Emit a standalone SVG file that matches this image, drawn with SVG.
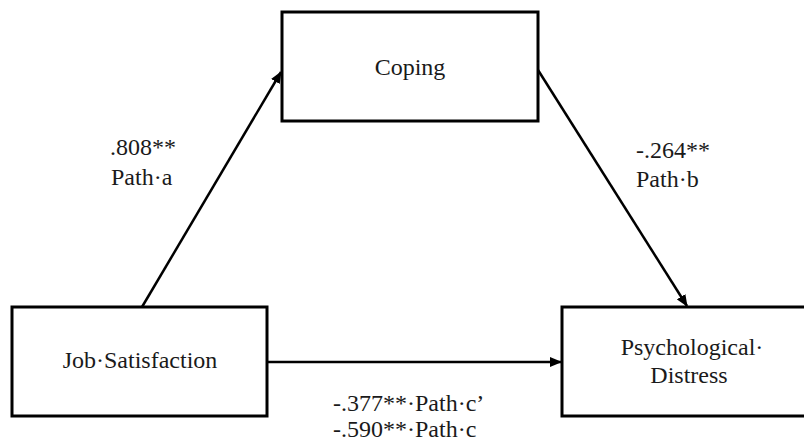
<svg xmlns="http://www.w3.org/2000/svg" width="804" height="447" viewBox="0 0 804 447">
<defs>
<style>
.box{fill:#fff;stroke:#000;stroke-width:3}
.lbl{font-family:"Liberation Serif","Times New Roman",serif;font-size:24px;fill:#1a1a1a}
.mid{text-anchor:middle}
.conn{stroke:#000;stroke-width:2.5;fill:none}
</style>
<marker id="ah" markerUnits="userSpaceOnUse" markerWidth="12" markerHeight="10" refX="11" refY="5" orient="auto">
<path d="M0,0 L12,5 L0,10 Z" fill="#000"/>
</marker>
</defs>
<rect width="804" height="447" fill="#fff"/>
<g id="connectors">
<line class="conn" x1="142" y1="307" x2="281" y2="72" marker-end="url(#ah)"/>
<line class="conn" x1="538" y1="70" x2="687" y2="306" marker-end="url(#ah)"/>
<line class="conn" x1="267" y1="362" x2="561" y2="362" marker-end="url(#ah)"/>
</g>
<g id="coping">
<rect class="box" x="282" y="12" width="256" height="109"/>
<text class="lbl mid" x="410" y="75">Coping</text>
</g>
<g id="job-satisfaction">
<rect class="box" x="12" y="307" width="255" height="109"/>
<text class="lbl mid" x="140" y="368">Job·Satisfaction</text>
</g>
<g id="psychological-distress">
<rect class="box" x="562" y="307" width="256" height="109"/>
<text class="lbl mid" x="692" y="355">Psychological·</text>
<text class="lbl mid" x="689" y="383">Distress</text>
</g>
<g id="labels">
<text class="lbl" x="110" y="155">.808**</text>
<text class="lbl" x="111" y="185">Path·a</text>
<text class="lbl" x="636" y="158">-.264**</text>
<text class="lbl" x="636" y="187">Path·b</text>
<text class="lbl" x="333" y="411">-.377**·Path·c’</text>
<text class="lbl" x="333" y="437">-.590**·Path·c</text>
</g>
</svg>
